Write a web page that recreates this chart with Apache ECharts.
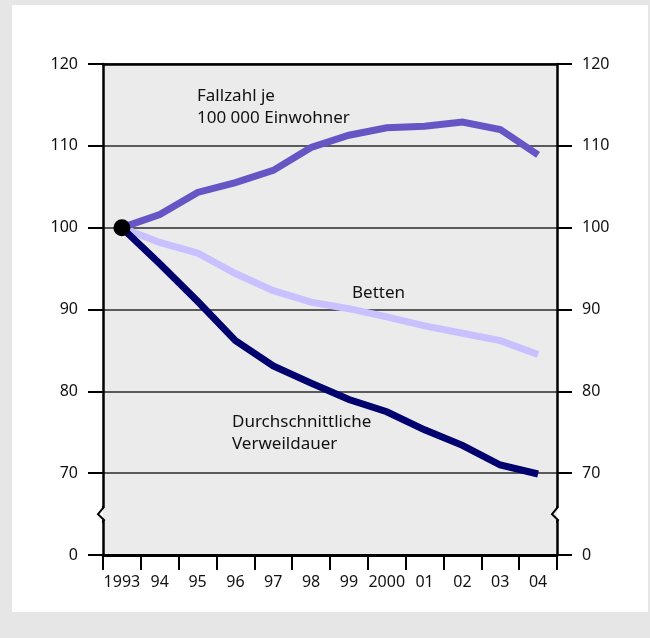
<!DOCTYPE html>
<html><head><meta charset="utf-8">
<script src="https://cdn.jsdelivr.net/npm/echarts@6/dist/echarts.min.js"></script>
<style>html,body{margin:0;padding:0;background:#e6e6e6;}#c{width:650px;height:638px;}</style>
</head><body><div id="c"></div>
<script>
const years = ['1993','94','95','96','97','98','99','2000','01','02','03','04'];
const fallzahl = [100,101.6,104.3,105.5,107.0,109.8,111.3,112.2,112.4,112.9,112.0,108.9];
const betten = [100,98.2,96.9,94.4,92.3,90.9,90.1,89.1,88.0,87.1,86.2,84.5];
const verweildauer = [100,95.6,91.0,86.2,83.1,81.0,79.0,77.5,75.3,73.4,71.0,69.9];
const yTickLabels = ['0','70','80','90','100','110','120'];
const startValue = [['1993',100]];

const FONT = '"Noto Sans", sans-serif';
const G = {left:103, right:93, top:64, bottom:83};
const W = 650, H = 638;
const chart = echarts.init(document.getElementById('c'), null, {renderer:'canvas'});

function yAxisCfg(pos){
  return {
    type:'value', position:pos, min:60, max:120, interval:10,
    axisLine:{show:true, lineStyle:{color:'#000', width:2.5}},
    axisTick:{show:true, length:15, lineStyle:{color:'#000', width:2}},
    axisLabel:{margin:25, color:'#111', fontSize:16, fontFamily:FONT,
      formatter:(v)=> yTickLabels[Math.round((v-60)/10)]},
    splitLine:{show: pos==='left', lineStyle:{color:'#2a2a2a', width:1.5}}
  };
}

const option = {
  animation:false,
  backgroundColor:'transparent',
  grid:{left:G.left, right:G.right, top:G.top, bottom:G.bottom, show:true, backgroundColor:'#ebebeb', borderWidth:0},
  xAxis:[{
    type:'category', data:years, boundaryGap:true, position:'bottom',
    axisLine:{lineStyle:{color:'#000', width:3}},
    axisTick:{show:true, length:15, interval:0, lineStyle:{color:'#000', width:2}},
    axisLabel:{margin:19, color:'#111', fontSize:16, fontFamily:FONT, interval:0}
  },{
    type:'category', data:years, position:'top',
    axisLine:{lineStyle:{color:'#000', width:2.5}},
    axisTick:{show:false}, axisLabel:{show:false}
  }],
  yAxis:[yAxisCfg('left'), yAxisCfg('right')],
  series:[
    {type:'line', name:'Betten', data:betten, showSymbol:false, lineStyle:{color:'#c8c0ff', width:7, cap:'butt', join:'miter'}, z:2},
    {type:'line', name:'Fallzahl', data:fallzahl, showSymbol:false, lineStyle:{color:'#6655c4', width:7, cap:'butt', join:'miter'}, z:3},
    {type:'line', name:'Verweildauer', data:verweildauer, showSymbol:false, lineStyle:{color:'#00006e', width:7, cap:'butt', join:'miter'}, z:4},
    {type:'scatter', data:startValue, symbol:'circle', symbolSize:17, itemStyle:{color:'#000', opacity:1}, z:10}
  ]
};
chart.setOption(option);

const yb = chart.convertToPixel({yAxisIndex:0}, 65);
const xl = G.left, xr = W - G.right;
function brk(x, outsideLeft){
  return [
    {type:'rect', shape:{x:x-8, y:yb-6, width:8, height:12}, style:{fill: outsideLeft ? '#ffffff' : '#ebebeb'}, z:100},
    {type:'rect', shape:{x:x, y:yb-6, width:8, height:12}, style:{fill: outsideLeft ? '#ebebeb' : '#ffffff'}, z:100},
    {type:'polyline', shape:{points:[[x,yb-8],[x,yb-6],[x-5,yb],[x+1,yb+6],[x,yb+7],[x,yb+9]]}, style:{stroke:'#000', lineWidth:2, fill:null}, z:101}
  ];
}
function txt(x, y, t){
  return {type:'text', x:x, y:y, z:50, style:{text:t, font:'17px '+FONT, fill:'#111', lineHeight:22, verticalAlign:'top', align:'left'}};
}
chart.setOption({graphic:[
  {type:'rect', shape:{x:12, y:5, width:636, height:607}, style:{fill:'#ffffff'}, z:-100, silent:true},
  ...brk(xl, true), ...brk(xr, false),
  txt(197, 85, 'Fallzahl je\n100 000 Einwohner'),
  txt(352, 282, 'Betten'),
  txt(232, 411, 'Durchschnittliche\nVerweildauer')
]});
</script></body></html>
